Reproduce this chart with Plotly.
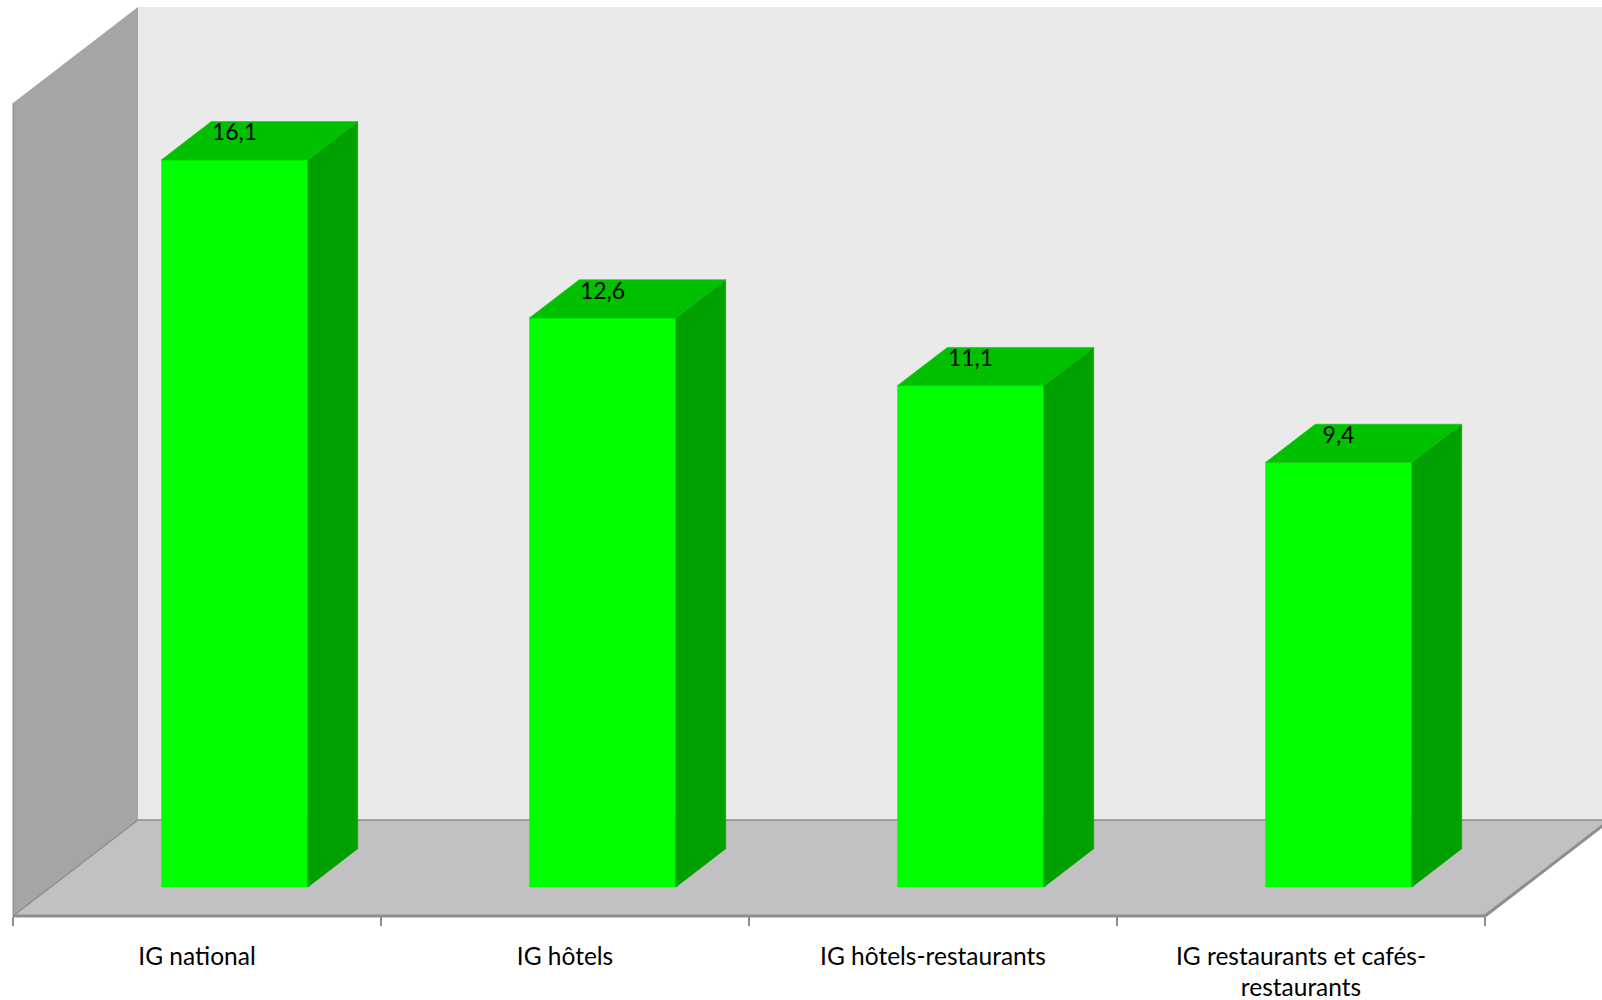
import plotly.graph_objects as go

# --- data
categories = ["IG national", "IG hôtels", "IG hôtels-restaurants", "IG restaurants et cafés-<br>restaurants"]
values = [16.1, 12.6, 11.1, 9.4]
value_labels = ["16,1", "12,6", "11,1", "9,4"]
category_edges = [0, 1, 2, 3, 4]

# --- layout of the fake-3D box (pixels in the figure)
W, H = 1602, 1000
LEFT_PX, FLOOR_PX = 13, 916
CAT_PX, UNIT_PX = 368.0, 45.17
DEPTH_X = 125 / CAT_PX      # full box depth in category units
DEPTH_Y = 96 / UNIT_PX      # full box depth in value units
Y_MAX = 18
BAR_WIDTH = 0.398
BAR_D0, BAR_D1 = 0.3, 0.7   # front and back depth of a bar
LABEL_LIFT = 0.56

BACK, WALL, FLOOR, EDGE = "#EAEAEA", "#A5A5A5", "#C1C1C1", "#8E8E8E"
FRONT, TOP, SIDE = "#00FF00", "#00C000", "#00A000"
FONT = "Lato"


def proj(x, v, d):
    return x + d * DEPTH_X, v + d * DEPTH_Y


def path(points):
    return "M " + " L ".join(f"{x:.4f} {y:.4f}" for x, y in points) + " Z"


def poly(points, color, line_color=None, line_w=0):
    return dict(type="path", xref="x", yref="y", layer="below", path=path(points),
                fillcolor=color, line=dict(color=line_color or color, width=line_w))


def seg(a, b, width):
    return dict(type="line", xref="x", yref="y", layer="below",
                x0=a[0], y0=a[1], x1=b[0], y1=b[1], line=dict(color=EDGE, width=width))


x_end = category_edges[-1]
shapes = [
    poly([proj(0, 0, 1), proj(x_end, 0, 1), proj(x_end, Y_MAX, 1), proj(0, Y_MAX, 1)], BACK),
    poly([proj(0, 0, 0), proj(0, 0, 1), proj(0, Y_MAX, 1), proj(0, Y_MAX, 0)], WALL),
    poly([proj(0, 0, 0), proj(x_end, 0, 0), proj(x_end, 0, 1), proj(0, 0, 1)], FLOOR),
    seg(proj(0, 0, 1), proj(x_end, 0, 1), 1.5),
    seg(proj(0, 0, 0), proj(0, 0, 1), 1.5),
    seg(proj(0, 0, 0), proj(0, Y_MAX, 0), 1),
    seg(proj(x_end, 0, 0), proj(x_end, 0, 1), 3),
    seg(proj(0, 0, 0), proj(x_end, 0, 0), 3),
]

centers = [i + 0.5 for i in range(len(categories))]
bar_x = [proj(c, 0, BAR_D0)[0] for c in centers]
bar_base = proj(0, 0, BAR_D0)[1]

fig = go.Figure()
fig.add_trace(go.Bar(x=bar_x, y=values, base=[bar_base] * len(values), width=BAR_WIDTH,
                     marker=dict(color=FRONT, line=dict(width=0)), hoverinfo="skip"))

for cx, v in zip(centers, values):
    l, r = cx - BAR_WIDTH / 2, cx + BAR_WIDTH / 2
    side = [proj(r, 0, BAR_D0), proj(r, 0, BAR_D1), proj(r, v, BAR_D1), proj(r, v, BAR_D0), proj(r, 0, BAR_D0)]
    top = [proj(l, v, BAR_D0), proj(r, v, BAR_D0), proj(r, v, BAR_D1), proj(l, v, BAR_D1), proj(l, v, BAR_D0)]
    for pts, col in ((side, SIDE), (top, TOP)):
        fig.add_trace(go.Scatter(x=[p[0] for p in pts], y=[p[1] for p in pts], mode="lines",
                                 fill="toself", fillcolor=col, line=dict(color=col, width=0.5),
                                 hoverinfo="skip"))

fig.add_trace(go.Scatter(x=bar_x, y=[v + bar_base + LABEL_LIFT for v in values], mode="text",
                         text=value_labels, textposition="middle center",
                         textfont=dict(family=FONT, size=23, color="black"), hoverinfo="skip"))

fig.update_layout(
    width=W, height=H, margin=dict(l=0, r=0, t=0, b=0), showlegend=False,
    paper_bgcolor="white", plot_bgcolor="white", barmode="overlay",
    shapes=shapes, font=dict(family=FONT, size=24.5, color="black"),
    xaxis=dict(range=[-LEFT_PX / CAT_PX, (W - LEFT_PX) / CAT_PX], domain=[0, 1], automargin=False,
               anchor="free", position=(H - FLOOR_PX) / H, showline=False, showgrid=False,
               zeroline=False, tickmode="array", tickvals=centers, ticktext=categories,
               ticks="", ticklabelstandoff=23, tickfont=dict(family=FONT, size=24.5, color="black"),
               minor=dict(tickmode="array", tickvals=category_edges, ticks="outside",
                          ticklen=9, tickwidth=2, tickcolor=EDGE, showgrid=False)),
    yaxis=dict(range=[-(H - FLOOR_PX) / UNIT_PX, FLOOR_PX / UNIT_PX], domain=[0, 1], automargin=False,
               visible=False, showgrid=False, zeroline=False),
)

fig.write_html("out.html", config=dict(displayModeBar=False),
               post_script="document.body.style.margin='0';")
